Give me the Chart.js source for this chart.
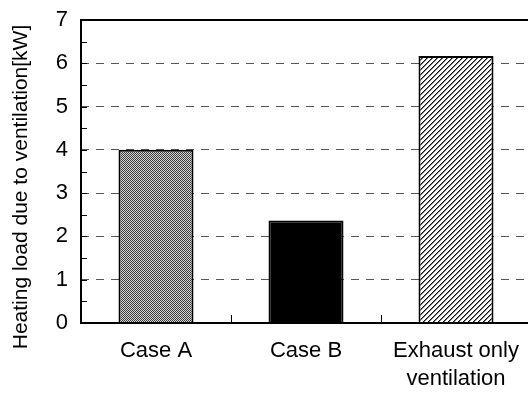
<!DOCTYPE html>
<html>
<head>
<meta charset="utf-8">
<script src="https://cdn.jsdelivr.net/npm/chart.js@4"></script>
<style>
  html, body { margin: 0; padding: 0; background: #fff; overflow: hidden; }
  #wrap { width: 528px; height: 394px; overflow: hidden; }
</style>
</head>
<body>
<div id="wrap"><canvas id="barChart" width="534" height="394"></canvas></div>
<script>
const categories = ["Case A", "Case B", ["Exhaust only", "ventilation"]];
const heatingLoad = [4.0, 2.37, 6.17];
const yTicks = [0, 1, 2, 3, 4, 5, 6, 7];
const yTitle = "Heating load due to ventilation[kW]";

const FONT = "'Liberation Sans', Arial, sans-serif";

function makePattern(size, draw) {
  const c = document.createElement("canvas");
  c.width = size;
  c.height = size;
  const g = c.getContext("2d");
  draw(g);
  return g.createPattern(c, "repeat");
}

const dotted = makePattern(2, function (g) {
  g.fillStyle = "#d6d6d6";
  g.fillRect(0, 0, 2, 2);
  g.fillStyle = "#3a3a3a";
  g.fillRect(0, 0, 1, 1);
  g.fillRect(1, 1, 1, 1);
});

const hatched = makePattern(5, function (g) {
  g.fillStyle = "#fff";
  g.fillRect(0, 0, 5, 5);
  for (let i = 0; i < 5; i++) {
    g.fillStyle = "#111";
    g.fillRect(i, 4 - i, 1, 1);
    g.fillStyle = "#777";
    g.fillRect(i, (5 - i) % 5, 1, 1);
  }
});

// frame, inside tick marks and rotated axis title
const extras = {
  id: "extras",
  afterDatasetsDraw(chart) {
    const ctx = chart.ctx;
    const a = chart.chartArea;
    const y = chart.scales.y;
    const x = chart.scales.x;
    ctx.save();
    ctx.strokeStyle = "#000";
    ctx.lineWidth = 1;
    for (let v = 0.5; v < 7; v += 0.5) {
      const py = Math.round(y.getPixelForValue(v)) + 0.5;
      ctx.beginPath();
      ctx.moveTo(a.left, py);
      ctx.lineTo(a.left + 6, py);
      ctx.stroke();
    }
    for (let i = 0; i < categories.length - 1; i++) {
      const px = Math.round((x.getPixelForValue(i) + x.getPixelForValue(i + 1)) / 2) + 0.5;
      ctx.beginPath();
      ctx.moveTo(px, a.bottom);
      ctx.lineTo(px, a.bottom - 8);
      ctx.stroke();
    }
    ctx.lineWidth = 2;
    ctx.strokeRect(a.left, a.top, a.right - a.left, a.bottom - a.top);

    ctx.translate(21, 187);
    ctx.rotate(-Math.PI / 2);
    ctx.fillStyle = "#000";
    ctx.font = "21px " + FONT;
    ctx.textAlign = "center";
    ctx.textBaseline = "middle";
    ctx.fillText(yTitle, 0, 0);
    ctx.restore();
  },
};

const ctx = document.getElementById("barChart").getContext("2d");

new Chart(ctx, {
  type: "bar",
  data: {
    labels: categories,
    datasets: [
      {
        label: "Heating load",
        data: heatingLoad,
        backgroundColor: [dotted, "#000", hatched],
        borderColor: "#000",
        borderWidth: 2,
        barPercentage: 0.5,
        categoryPercentage: 1.0,
      },
    ],
  },
  options: {
    responsive: false,
    animation: false,
    devicePixelRatio: 1,
    layout: {
      padding: { top: 20, right: 3, left: 0, bottom: 0 },
    },
    plugins: {
      legend: { display: false },
      tooltip: { enabled: false },
    },
    scales: {
      x: {
        grid: { display: false, drawTicks: false },
        border: { display: false },
        ticks: {
          color: "#000",
          font: { family: FONT, size: 22, lineHeight: 1.27 },
          padding: 14,
          maxRotation: 0,
        },
        afterFit(scale) {
          scale.height = 71;
        },
      },
      y: {
        min: 0,
        max: 7,
        afterBuildTicks(scale) {
          scale.ticks = yTicks.map((v) => ({ value: v }));
        },
        grid: {
          drawTicks: false,
          color: (c) => (c.tick && (c.tick.value === 0 || c.tick.value === 7) ? "rgba(0,0,0,0)" : "#555"),
          lineWidth: 1,
        },
        border: { display: false, dash: [8, 7] },
        ticks: {
          color: "#000",
          font: { family: FONT, size: 22 },
          padding: 13,
        },
        afterFit(scale) {
          scale.width = 81;
          scale.paddingTop = 0;
          scale.paddingBottom = 0;
        },
      },
    },
  },
  plugins: [extras],
});
</script>
</body>
</html>
